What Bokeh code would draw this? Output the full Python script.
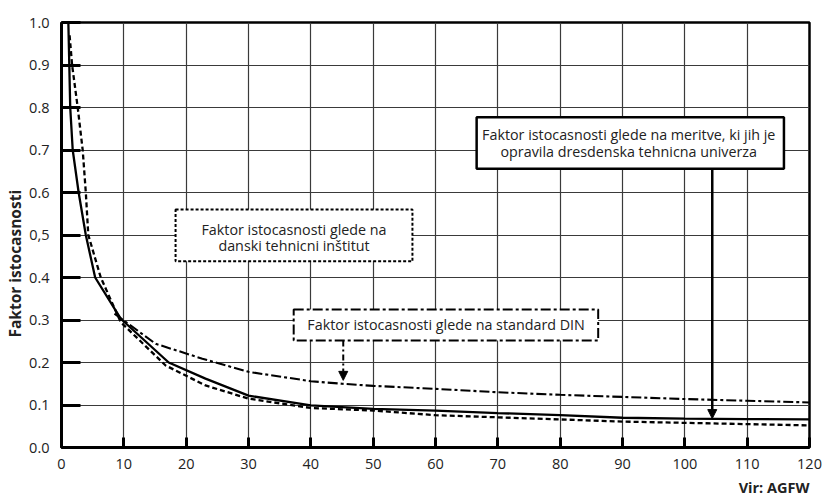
from bokeh.plotting import figure
from bokeh.models import Range1d, FixedTicker, Arrow, NormalHead, Title
from bokeh.core.properties import value
from bokeh.embed import file_html
from bokeh.resources import INLINE

# Dresden technical university (solid)
x_tu = [1.1, 1.25, 1.4, 1.8, 2.75, 3.9, 5.4, 9.5, 17.2, 23.1, 30, 40, 50, 60, 70, 80, 90, 100, 110, 120]
y_tu = [1.0, 0.9, 0.8, 0.7, 0.6, 0.5, 0.4, 0.303, 0.2, 0.162, 0.122, 0.099, 0.091, 0.087, 0.081, 0.076, 0.07, 0.068, 0.067, 0.066]

# Danish technical institute (dashed)
x_dti = [1.3, 1.7, 2.6, 3.4, 3.9, 4.3, 6.3, 9.5, 16.7, 23.1, 30, 40, 50, 60, 70, 80, 90, 100, 110, 120]
y_dti = [0.97, 0.9, 0.8, 0.7, 0.6, 0.5, 0.4, 0.295, 0.193, 0.146, 0.115, 0.093, 0.087, 0.076, 0.071, 0.066, 0.061, 0.058, 0.055, 0.052]

# DIN standard (dash-dot)
x_din = [8.5, 15.1, 22.6, 30, 40, 45, 50, 60, 70, 80, 90, 100, 110, 120]
y_din = [0.315, 0.244, 0.209, 0.178, 0.156, 0.15, 0.145, 0.138, 0.13, 0.124, 0.119, 0.114, 0.11, 0.106]

x_ticks = [0, 10, 20, 30, 40, 50, 60, 70, 80, 90, 100, 110, 120]
y_ticks = [0.0, 0.1, 0.2, 0.3, 0.4, 0.5, 0.6, 0.7, 0.8, 0.9, 1.0]
y_tick_labels = ["0.0", "0.1", "0.2", "0.3", "0.4", "0,5", "0.6", "0.7", "0.8", "0.9", "1.0"]

y_title = "Faktor istocasnosti"
source_note = "Vir: AGFW"
label_dti = ["Faktor istocasnosti glede na", "danski tehnicni inštitut"]
label_din = ["Faktor istocasnosti glede na standard DIN"]
label_tu = ["Faktor istocasnosti glede na meritve, ki jih je", "opravila dresdenska tehnicna univerza"]

FONT = "Open Sans"
BOX_FS = "14.3px"

p = figure(width=823, height=501, output_backend="svg", toolbar_location=None,
           x_range=Range1d(0, 120), y_range=Range1d(0, 1),
           min_border_left=61, min_border_top=22, min_border_right=14, min_border_bottom=54)
p.background_fill_color = "white"
p.border_fill_color = "white"
p.outline_line_color = "black"
p.outline_line_width = 2.5

p.xaxis.ticker = FixedTicker(ticks=x_ticks)
p.yaxis.ticker = FixedTicker(ticks=y_ticks)
p.yaxis.major_label_overrides = {t: l for t, l in zip(y_ticks, y_tick_labels)}
for ax in (p.xaxis[0], p.yaxis[0]):
    ax.axis_line_width = 3
    ax.axis_line_color = "black"
    ax.major_tick_out = 0
    ax.major_tick_line_width = 3
    ax.major_tick_line_color = "black"
    ax.minor_tick_line_color = None
    ax.major_label_text_font = FONT
    ax.major_label_text_font_size = "14.5px"
    ax.major_label_text_color = "#222222"
p.xaxis.major_tick_in = 10
p.yaxis.major_tick_in = 19
p.xaxis.major_label_standoff = 11
p.yaxis.major_label_standoff = 12

p.add_layout(Title(text=y_title, align="left", text_font=FONT, text_font_style="bold",
                   text_font_size="15.5px", text_color="#222222", standoff=2, offset=110), "left")

p.grid.grid_line_color = "#3a3a3a"
p.grid.grid_line_width = 1.2

p.line(x_tu, y_tu, line_color="black", line_width=2.3)
p.line(x_dti, y_dti, line_color="black", line_width=2.3, line_dash="5 3")
p.line(x_din, y_din, line_color="black", line_width=2.1, line_dash="10 3 3 3")

# annotation boxes
p.quad(left=[18.3], right=[56.3], bottom=[0.438], top=[0.56], fill_color="white",
       line_color="black", line_width=2, line_dash="3 2")
p.quad(left=[37.25], right=[86.1], bottom=[0.252], top=[0.325], fill_color="white",
       line_color="black", line_width=2, line_dash="10 3 3 3")
p.quad(left=[66.6], right=[115.9], bottom=[0.656], top=[0.777], fill_color="white",
       line_color="black", line_width=2.5)

p.text(x=[37.3, 37.3], y=[0.513, 0.475], text=label_dti, text_align="center",
       text_baseline="middle", text_font=value(FONT), text_font_size=BOX_FS, text_color="#222222")
p.text(x=[61.7], y=[0.289], text=label_din, text_align="center",
       text_baseline="middle", text_font=value(FONT), text_font_size=BOX_FS, text_color="#222222")
p.text(x=[91.0, 91.0], y=[0.736, 0.697], text=label_tu, text_align="center",
       text_baseline="middle", text_font=value(FONT), text_font_size=BOX_FS, text_color="#222222")

p.add_layout(Arrow(end=NormalHead(size=9, fill_color="black", line_color="black"),
                   x_start=45.2, y_start=0.252, x_end=45.2, y_end=0.158,
                   line_color="black", line_width=2, line_dash="6 3 2 3"))
p.add_layout(Arrow(end=NormalHead(size=9, fill_color="black", line_color="black"),
                   x_start=104.4, y_start=0.656, x_end=104.4, y_end=0.068,
                   line_color="black", line_width=2.5))

p.add_layout(Title(text=source_note, align="right", text_font=FONT, text_font_style="bold",
                   text_font_size="14.5px", text_color="#222222", standoff=8), "below")

open("out.html", "w").write(file_html(p, INLINE))
